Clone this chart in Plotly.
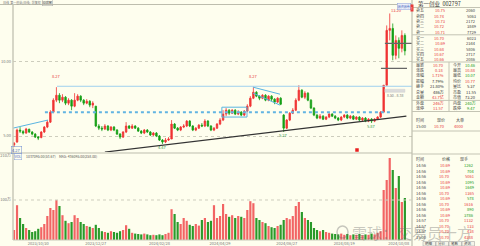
import plotly.graph_objects as go

W, H = 480, 246
FONT = "Noto Sans CJK SC, DejaVu Sans, sans-serif"

# ---------------- candle data (price) ----------------
opens = [4.40, 4.60, 5.40, 5.30, 5.20, 5.45, 5.27, 5.13, 4.93, 4.90,
         5.27, 5.60, 5.93, 6.60, 7.40, 7.73, 7.40, 7.60, 7.20, 7.40,
         7.00, 7.40, 7.67, 7.40, 7.20, 7.33, 7.07, 7.00, 5.67, 5.53,
         5.47, 5.67, 5.40, 5.60, 5.40, 5.13, 4.93, 5.27, 5.67, 5.53,
         5.67, 5.53, 5.33, 5.20, 5.40, 5.27, 5.07, 5.20, 5.00, 4.73,
         4.60, 4.73, 4.80, 5.80, 5.53, 5.40, 5.60, 5.67, 6.00, 5.67,
         5.40, 5.53, 5.73, 5.67, 6.00, 5.67, 5.40, 5.53, 5.80, 6.07,
         6.47, 6.73, 6.53, 6.73, 6.47, 6.60, 6.40, 6.67, 7.00, 7.53,
         7.93, 7.67, 7.53, 7.73, 7.40, 7.67, 7.47, 7.27, 7.53, 6.40,
         5.53, 6.07, 6.53, 6.73, 7.40, 8.07, 7.60, 7.87, 7.40, 6.87,
         6.40, 6.20, 6.33, 6.13, 6.27, 6.47, 6.33, 6.20, 6.07, 6.27,
         6.40, 6.20, 6.33, 6.13, 6.27, 6.07, 6.20, 6.00, 6.13, 6.00,
         6.13, 6.27, 6.60, 8.40, 12.07, 12.20, 10.40, 11.40, 10.87, 11.73]
highs = [4.60, 5.50, 5.60, 5.40, 5.55, 5.50, 5.33, 5.20, 5.00, 5.33,
         5.67, 6.07, 6.73, 7.53, 8.27, 7.87, 7.80, 7.67, 7.53, 7.47,
         7.87, 7.80, 7.73, 7.47, 7.47, 7.40, 7.33, 7.00, 5.80, 5.67,
         5.80, 5.73, 5.67, 5.67, 5.47, 5.20, 5.33, 5.93, 5.73, 5.80,
         5.73, 5.60, 5.40, 5.47, 5.47, 5.33, 5.27, 5.27, 5.07, 4.80,
         4.87, 4.93, 6.07, 5.87, 5.60, 5.67, 5.80, 6.07, 6.07, 5.73,
         5.60, 5.80, 5.87, 6.13, 6.07, 5.73, 5.60, 5.87, 6.20, 6.73,
         6.87, 6.80, 6.80, 6.80, 6.73, 6.67, 6.73, 7.13, 7.67, 8.27,
         8.00, 7.73, 7.80, 7.80, 7.73, 7.73, 7.53, 7.60, 7.60, 6.47,
         6.13, 6.60, 6.87, 7.53, 8.40, 8.13, 8.00, 7.93, 7.47, 6.93,
         6.47, 6.47, 6.40, 6.33, 6.53, 6.53, 6.40, 6.27, 6.33, 6.47,
         6.47, 6.40, 6.40, 6.33, 6.33, 6.27, 6.27, 6.20, 6.20, 6.20,
         6.33, 6.67, 8.40, 12.40, 13.20, 12.53, 11.73, 11.60, 12.07, 11.87]
lows = [4.27, 4.55, 5.20, 5.10, 5.15, 5.20, 5.05, 4.87, 4.73, 4.85,
        5.20, 5.53, 5.87, 6.53, 7.27, 7.20, 7.27, 7.07, 7.07, 6.73,
        6.93, 7.33, 7.27, 7.07, 7.13, 6.93, 6.87, 5.60, 5.40, 5.33,
        5.40, 5.33, 5.33, 5.33, 5.07, 4.80, 4.87, 5.20, 5.47, 5.47,
        5.47, 5.27, 5.13, 5.13, 5.20, 5.00, 5.00, 4.93, 4.67, 4.47,
        4.53, 4.67, 4.80, 5.47, 5.33, 5.33, 5.53, 5.60, 5.60, 5.33,
        5.33, 5.47, 5.60, 5.60, 5.60, 5.33, 5.33, 5.47, 5.73, 6.00,
        6.33, 6.40, 6.47, 6.40, 6.40, 6.33, 6.33, 6.60, 6.93, 7.47,
        7.60, 7.40, 7.47, 7.33, 7.33, 7.33, 7.13, 7.20, 7.07, 5.27,
        5.47, 6.00, 6.47, 6.67, 7.33, 7.53, 7.47, 7.33, 6.80, 6.33,
        6.13, 6.13, 6.07, 6.07, 6.20, 6.27, 6.13, 6.00, 6.00, 6.20,
        6.13, 6.13, 6.07, 6.07, 6.00, 6.00, 5.93, 5.93, 5.87, 5.93,
        6.07, 6.20, 6.60, 8.40, 11.40, 10.07, 10.13, 10.20, 10.60, 10.40]
closes = [4.53, 5.40, 5.33, 5.20, 5.47, 5.27, 5.13, 4.93, 4.87, 5.27,
          5.60, 5.93, 6.60, 7.40, 7.73, 7.40, 7.60, 7.20, 7.40, 7.00,
          7.40, 7.67, 7.40, 7.20, 7.33, 7.07, 7.20, 5.67, 5.53, 5.47,
          5.67, 5.40, 5.60, 5.40, 5.13, 4.93, 5.27, 5.67, 5.53, 5.67,
          5.53, 5.33, 5.20, 5.40, 5.27, 5.07, 5.20, 5.00, 4.73, 4.60,
          4.73, 4.80, 5.80, 5.53, 5.40, 5.60, 5.67, 6.00, 5.67, 5.40,
          5.53, 5.73, 5.67, 6.00, 5.67, 5.40, 5.53, 5.80, 6.07, 6.47,
          6.73, 6.53, 6.73, 6.47, 6.60, 6.40, 6.67, 7.00, 7.53, 7.93,
          7.67, 7.53, 7.73, 7.40, 7.67, 7.47, 7.27, 7.53, 7.13, 5.53,
          6.07, 6.53, 6.73, 7.40, 8.07, 7.60, 7.87, 7.40, 6.87, 6.40,
          6.20, 6.33, 6.13, 6.27, 6.47, 6.33, 6.20, 6.07, 6.27, 6.40,
          6.20, 6.33, 6.13, 6.27, 6.07, 6.20, 6.00, 6.13, 6.00, 6.13,
          6.27, 6.60, 8.40, 12.07, 12.20, 10.40, 11.40, 10.87, 11.73, 10.70]
# volume, 万手
volumes = [25, 87, 55, 40, 30, 25, 20, 22, 28, 32,
           40, 60, 80, 75, 100, 85, 62, 48, 42, 45,
           62, 55, 45, 40, 35, 33, 30, 38, 30, 22,
           20, 18, 22, 20, 18, 22, 25, 37, 28, 18,
           16, 15, 14, 16, 14, 12, 13, 12, 14, 12,
           15, 18, 77, 65, 45, 40, 55, 48, 38, 35,
           40, 36, 50, 55, 45, 48, 87, 55, 60, 90,
           65, 58, 62, 55, 60, 58, 55, 75, 97, 92,
           55, 50, 45, 42, 35, 32, 30, 35, 38, 50,
           55, 52, 60, 85, 95, 70, 55, 50, 45, 30,
           25, 22, 25, 20, 18, 16, 15, 14, 16, 13,
           15, 12, 14, 13, 15, 12, 14, 13, 16, 14,
           18, 22, 125, 150, 205, 175, 130, 160, 95, 105]

price_ticks = [5, 10]
price_tick_text = ["5.00", "10.00"]
vol_ticks = [100, 210]
vol_tick_text = ["100万", "210万"]
date_tick_idx = [8, 27, 48, 68, 90, 109, 127]
date_tick_text = ["2023/10/30", "2023/12/27", "2024/02/28", "2024/04/29",
                  "2024/06/27", "2024/08/19", "2024/10/08"]
high_label_idx = [14, 79, 124]
low_label_idx = [0, 49, 89, 118]

# hand-drawn analysis lines (candle index, price)
rise_line_x, rise_line_y = [-0.3, 11.2], [5.53, 6.07]
resist_line_x, resist_line_y = [14.2, 131.3], [8.33, 8.33]
neck_line_x, neck_line_y = [10.2, 124.5], [6.60, 6.60]
support_line_x, support_line_y = [30, 129.5], [3.93, 6.33]
box_x, box_y = [68.6, 76.9], [6.27, 6.93]
chan_up_x, chan_up_y = [78.9, 87.8], [8.27, 7.80]
chan_dn_x, chan_dn_y = [78.9, 87.8], [7.87, 7.07]
top_hi_x, top_hi_y = [122.4, 131.3], [11.20, 11.20]
top_lo_x, top_lo_y = [121.1, 129.7], [9.53, 9.53]
gap_box_x, gap_box_y = [122.4, 129.0], [7.93, 8.13]
gap_text = "8.50 - 8.38"
signal_x, signal_y = [113.2], [4.07]

# ---------------- right panel data ----------------
stock_name, stock_code = "第一创业", "002797"
ask_labels = ["卖五", "卖四", "卖三", "卖二", "卖一"]
ask_prices = ["10.75", "10.74", "10.73", "10.72", "10.71"]
ask_vols = ["2060", "5063", "2172", "3849", "7729"]
bid_labels = ["买一", "买二", "买三", "买四", "买五"]
bid_prices = ["10.70", "10.69", "10.68", "10.67", "10.66"]
bid_vols = ["6023", "2344", "5806", "2717", "2086"]
stat_rows = [
    ("最新", "10.70", "r", "今开", "10.46", "g"),
    ("涨跌", "0.18", "r", "最高", "10.88", "r"),
    ("涨幅", "1.71%", "r", "最低", "10.07", "g"),
    ("振幅", "7.79%", "k", "均价", "10.77", "r"),
    ("换手", "21.80%", "k", "量比", "5.37", "k"),
    ("总量", "486万", "k", "市盈", "11.55", "k"),
    ("金额", "43.7亿", "r", "市值", "73.20", "k"),
]
stat_rows2 = [
    ("外盘", "246万", "r", "内盘", "240万", "g"),
    ("涨停", "11.57", "r", "跌停", "9.47", "g"),
]
big_header = ("时间", "现价", "大单")
big_row = ("15:00", "10.70", "4000")
trade_header = ("时间", "价格", "现手")
trade_times = ["14:56", "14:56", "14:56", "14:56", "14:56", "14:56", "14:56",
               "14:56", "14:56", "14:56", "14:57", "14:57", "14:57", "15:00"]
trade_prices = ["10.69", "10.69", "10.70", "10.69", "10.69", "10.70", "10.69",
                "10.70", "10.69", "10.69", "10.70", "10.70", "10.70", "10.70"]
trade_vols = ["1262", "704", "5061", "1095", "1649", "1365", "578",
              "1616", "890", "3786", "1132", "133", "438", "4388"]
trade_dirs = ["g", "g", "r", "g", "g", "r", "g", "r", "g", "g", "r", "r", "r", "r"]
tabs = ["明细", "分价", "笔数", "资讯"]
watermark = "雪球：交易员十方"

# ---------------- styling ----------------
BG = "#fefeee"
RED = "#f03434"
GREEN = "#16a016"
COL = {"r": "#e83a3a", "g": "#1a9a1a", "k": "#333333"}
GRID = "#cdcdbd"

def PX(x):
    return x / W

def PY(y):
    return 1 - y / H

idx = list(range(len(closes)))
fig = go.Figure()

fig.add_trace(go.Candlestick(
    x=idx, open=opens, high=highs, low=lows, close=closes,
    increasing=dict(line=dict(color=RED, width=0.8), fillcolor=RED),
    decreasing=dict(line=dict(color=GREEN, width=0.8), fillcolor=GREEN),
    xaxis="x", yaxis="y", hoverinfo="skip", whiskerwidth=0))

vol_colors = ["#f26464" if c >= o else "#2a9a2a" for o, c in zip(opens, closes)]
fig.add_trace(go.Bar(x=idx, y=volumes, marker=dict(color=vol_colors, line=dict(width=0)),
                     width=0.72, xaxis="x2", yaxis="y2", hoverinfo="skip"))

def add_line(xs, ys, color, width=1, dash="solid"):
    fig.add_trace(go.Scatter(x=xs, y=ys, mode="lines", xaxis="x", yaxis="y",
                             line=dict(color=color, width=width, dash=dash),
                             hoverinfo="skip"))

add_line(rise_line_x, rise_line_y, "#5ab4e0", 1)
add_line(resist_line_x, resist_line_y, "#9fd0ee", 1)
add_line(neck_line_x, neck_line_y, "#62b4e2", 2, "dot")
add_line(support_line_x, support_line_y, "#333333", 1.3)
add_line([box_x[0], box_x[1], box_x[1], box_x[0], box_x[0]],
         [box_y[0], box_y[0], box_y[1], box_y[1], box_y[0]], "#5ab4e0", 1)
add_line(chan_up_x, chan_up_y, "#5ab4e0", 1)
add_line(chan_dn_x, chan_dn_y, "#5ab4e0", 1)
add_line(top_hi_x, top_hi_y, "#666666", 1.2)
add_line(top_lo_x, top_lo_y, "#666666", 1.2)
fig.add_trace(go.Scatter(x=[gap_box_x[0], gap_box_x[1], gap_box_x[1], gap_box_x[0], gap_box_x[0]],
                         y=[gap_box_y[0], gap_box_y[0], gap_box_y[1], gap_box_y[1], gap_box_y[0]],
                         mode="lines", fill="toself", fillcolor="#dcdcdc",
                         line=dict(color="#cfcfcf", width=0.5), xaxis="x", yaxis="y",
                         hoverinfo="skip"))
fig.add_trace(go.Scatter(x=signal_x, y=signal_y, mode="markers", xaxis="x", yaxis="y",
                         marker=dict(symbol="square", size=3.5, color="#e82020"),
                         hoverinfo="skip"))

ann = []

def txt(x, y, s, size=4, color="#333333", xanchor="left", **kw):
    ann.append(dict(x=PX(x), y=PY(y), xref="paper", yref="paper", text=s,
                    showarrow=False, xanchor=xanchor, yanchor="middle",
                    font=dict(size=size, color=color, family=FONT), **kw))

# high / low labels from data
for k, i in enumerate(high_label_idx):
    xs, ys = (0, 11) if k < 2 else (7, 3)
    ann.append(dict(x=i, y=highs[i], xref="x", yref="y", text=f"{highs[i]:.2f}",
                    showarrow=False, xshift=xs, yshift=ys,
                    font=dict(size=4, color="#e83a3a", family=FONT)))
for k, i in enumerate(low_label_idx):
    extra = dict(bordercolor="#6a8ad0", borderwidth=0.5, borderpad=0.5) if k == 0 else {}
    ann.append(dict(x=i, y=lows[i], xref="x", yref="y", text=f"{lows[i]:.2f}",
                    showarrow=False, xshift=2 if k == 0 else 0, yshift=-3,
                    font=dict(size=4, color="#2f9a4a" if k else "#4a6ac0", family=FONT), **extra))
ann.append(dict(x=(gap_box_x[0] + gap_box_x[1]) / 2, y=gap_box_y[0], xref="x", yref="y",
                text=gap_text, showarrow=False, yshift=-3,
                font=dict(size=3.5, color="#777777", family=FONT)))

# top toolbar
txt(1, 2, "日线  第一创业(日线)  前复权  000000", 3, "#777777")
txt(42, 2, "公式▼", 3, "#777777", bordercolor="#aaaaaa", borderwidth=0.5, borderpad=0.3)
txt(411, 6, "融资融券", 3, "#4a6ac0", xanchor="right", bordercolor="#8aa0d8",
    borderwidth=0.5, borderpad=0.3, bgcolor="#eef0fa")
# volume title row
txt(14, 156.5, "VOL", 3.5, "#3a5ac0", bordercolor="#8aa0d8", borderwidth=0.5, borderpad=0.3)
txt(24, 156.5, "1037095.00(53.67)", 3.5, "#555555")
txt(57, 156.5, "MA5: 436095.00(258.00)", 3.5, "#555555")

# watermark
txt(350, 232, watermark, 15, "rgba(110,110,110,0.38)")

# right panel header
txt(416, 4, stock_name + "  " + stock_code, 5.5, "#333333")
ann.append(dict(x=PX(413.5), y=PY(4), xref="paper", yref="paper", text="!", showarrow=False,
                font=dict(size=4, color="white", family=FONT), bgcolor="#e83a3a", borderpad=0.2))

ask_y = [10.2, 15.6, 21.0, 26.4, 31.8]
bid_y = [37.8, 43.2, 48.6, 54.0, 59.4]
for y, l, p, v in zip(ask_y, ask_labels, ask_prices, ask_vols):
    txt(414, y, l, 4, "#444444")
    txt(447, y, p, 4, COL["r"], xanchor="right")
    txt(478, y, v, 4, "#444444", xanchor="right")
for y, l, p, v in zip(bid_y, bid_labels, bid_prices, bid_vols):
    txt(414, y, l, 4, "#444444")
    txt(447, y, p, 4, COL["r"], xanchor="right")
    txt(478, y, v, 4, "#444444", xanchor="right")

stat_y = [64.6, 70.0, 75.4, 80.8, 86.2, 91.6, 97.0]
for y, r in zip(stat_y, stat_rows):
    txt(414, y, r[0], 4, "#444444")
    txt(446, y, r[1], 4, COL[r[2]], xanchor="right")
    txt(451, y, r[3], 4, "#444444")
    txt(478, y, r[4], 4, COL[r[5]], xanchor="right")
for y, r in zip([103.2, 108.4], stat_rows2):
    txt(414, y, r[0], 4, "#444444")
    txt(446, y, r[1], 4, COL[r[2]], xanchor="right")
    txt(451, y, r[3], 4, "#444444")
    txt(478, y, r[4], 4, COL[r[5]], xanchor="right")
txt(414, 120.5, big_header[0], 4, "#444444")
txt(447, 120.5, big_header[1], 4, "#444444", xanchor="right")
txt(466, 120.5, big_header[2], 4, "#444444", xanchor="right")
txt(414, 126, big_row[0], 4, "#444444")
txt(447, 126, big_row[1], 4, COL["r"], xanchor="right")
txt(466, 126, big_row[2], 4, COL["r"], xanchor="right")

txt(414, 158.5, trade_header[0], 4, "#444444")
txt(452, 158.5, trade_header[1], 4, "#444444", xanchor="right")
txt(470, 158.5, trade_header[2], 4, "#444444", xanchor="right")
for k, (t, p, v, d) in enumerate(zip(trade_times, trade_prices, trade_vols, trade_dirs)):
    y = 165 + k * 5.5
    txt(414, y, t, 4, "#444444")
    txt(452, y, p, 4, COL["r"], xanchor="right")
    txt(476, y, v, 4, COL[d], xanchor="right")

tab_x = [423, 436, 449, 462]
shapes = []
for x0, t in zip(tab_x, tabs):
    shapes.append(dict(type="rect", xref="paper", yref="paper", x0=PX(x0), x1=PX(x0 + 12.5),
                       y0=PY(246), y1=PY(241.5), line=dict(color="#999999", width=0.5),
                       fillcolor="#f4f4e8"))
    txt(x0 + 6.25, 243.8, t, 3.5, "#444444", xanchor="center")

def hline(y, x0, x1, color="#c8c8b8", width=1, dash="solid"):
    shapes.append(dict(type="line", xref="paper", yref="paper", x0=PX(x0), x1=PX(x1),
                       y0=PY(y), y1=PY(y), line=dict(color=color, width=width, dash=dash)))

def vline(x, y0, y1, color="#c8c8b8", width=1):
    shapes.append(dict(type="line", xref="paper", yref="paper", x0=PX(x), x1=PX(x),
                       y0=PY(y0), y1=PY(y1), line=dict(color=color, width=width)))

hline(4.5, 0, 412, "#bdbdad")
vline(13, 4.5, 240, "#c8c8b8", 1.5)
vline(412, 0, 246, "#b0b0a0", 1)
hline(153, 0, 412, "#bdbdad")
hline(240, 13, 412, "#c8c8b8")
for y in [7.5, 34.8, 62, 100.4, 111.5, 131, 154]:
    hline(y, 412, 480, "#c4c4b4")
vline(449, 62, 111.5, "#c4c4b4")
# watermark logo
shapes.append(dict(type="circle", xref="paper", yref="paper", x0=PX(337), x1=PX(348),
                   y0=PY(238), y1=PY(226), line=dict(color="rgba(110,110,110,0.38)", width=1.5)))
# volume gridline at first volume tick
shapes.append(dict(type="line", xref="paper", yref="y2", x0=PX(13), x1=PX(412),
                   y0=vol_ticks[0], y1=vol_ticks[0], line=dict(color=GRID, width=1, dash="dot")))

xdom = [PX(13), PX(412)]
fig.update_layout(
    width=W, height=H, margin=dict(l=0, r=0, t=0, b=0),
    paper_bgcolor=BG, plot_bgcolor=BG, showlegend=False,
    font=dict(family=FONT),
    xaxis=dict(domain=xdom, range=[-0.33, 131.35], showticklabels=False, showgrid=False,
               zeroline=False, rangeslider=dict(visible=False), anchor="y", fixedrange=True),
    yaxis=dict(domain=[PY(152), PY(4.5)], range=[3.933, 13.8], tickvals=price_ticks,
               ticktext=price_tick_text, tickfont=dict(size=4, color="#777777"),
               showgrid=True, gridcolor=GRID, griddash="dot", gridwidth=1,
               zeroline=False, ticks="", automargin=False, anchor="x", ticklabelstandoff=1),
    xaxis2=dict(domain=xdom, matches="x", tickvals=date_tick_idx, ticktext=date_tick_text,
                tickfont=dict(size=4, color="#777777"), showgrid=False, zeroline=False,
                ticks="", automargin=False, anchor="y2", ticklabelstandoff=0),
    yaxis2=dict(domain=[PY(240), PY(153)], range=[0, 217.5], tickvals=vol_ticks,
                ticktext=vol_tick_text, tickfont=dict(size=4, color="#777777"),
                showgrid=False, zeroline=False, ticks="", automargin=False, anchor="x2",
                ticklabelstandoff=1),
    annotations=ann, shapes=shapes, bargap=0.25,
)

fig.write_html("out.html")
